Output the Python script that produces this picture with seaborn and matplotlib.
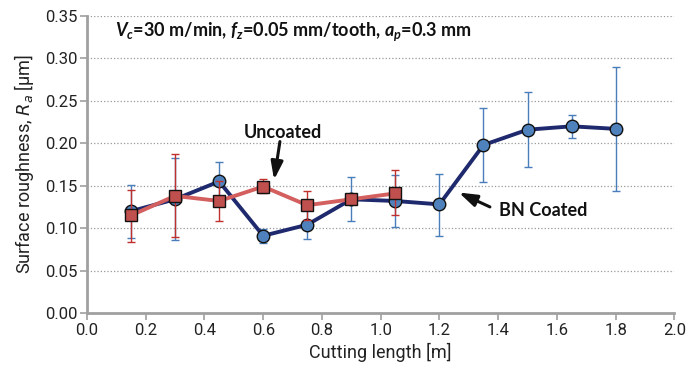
import matplotlib
matplotlib.use("Agg")
import matplotlib.pyplot as plt
import seaborn as sns
import pandas as pd
import numpy as np

sns.set_theme(style="white")
plt.rcParams['font.family'] = ['Roboto', 'DejaVu Sans']
plt.rcParams['mathtext.fontset'] = 'custom'
plt.rcParams['mathtext.it'] = 'Lato:bold:italic'
plt.rcParams['mathtext.rm'] = 'Lato:bold'

# BN coated
bn_x = [0.15, 0.30, 0.45, 0.60, 0.75, 0.90, 1.05, 1.20, 1.35, 1.50, 1.65, 1.80]
bn_y = [0.120, 0.134, 0.155, 0.091, 0.104, 0.134, 0.132, 0.128, 0.198, 0.216, 0.220, 0.217]
bn_lo = [0.088, 0.086, 0.133, 0.083, 0.087, 0.108, 0.101, 0.091, 0.154, 0.172, 0.206, 0.144]
bn_hi = [0.151, 0.183, 0.178, 0.099, 0.122, 0.160, 0.163, 0.164, 0.242, 0.260, 0.233, 0.290]

# Uncoated
un_x = [0.15, 0.30, 0.45, 0.60, 0.75, 0.90, 1.05]
un_y = [0.115, 0.138, 0.132, 0.149, 0.127, 0.134, 0.141]
un_lo = [0.084, 0.089, 0.108, 0.141, 0.110, 0.128, 0.116]
un_hi = [0.145, 0.187, 0.155, 0.158, 0.144, 0.140, 0.168]

x_ticks = [0.0, 0.2, 0.4, 0.6, 0.8, 1.0, 1.2, 1.4, 1.6, 1.8, 2.0]
y_ticks = [0.00, 0.05, 0.10, 0.15, 0.20, 0.25, 0.30, 0.35]

fig = plt.figure(figsize=(6.87, 3.72), dpi=100)
ax = fig.add_axes([0.1266, 0.1586, 0.855, 0.7984])

blue_line = '#1f2a6e'
blue_pt = '#4f81bd'
blue_err = '#4a7ebb'
red_line = '#d35f5f'
red_pt = '#c0504d'
red_err = '#c0302d'

df_bn = pd.DataFrame({'x': bn_x, 'y': bn_y})
df_un = pd.DataFrame({'x': un_x, 'y': un_y})

ax.errorbar(bn_x, bn_y, yerr=[np.array(bn_y) - np.array(bn_lo), np.array(bn_hi) - np.array(bn_y)],
            fmt='none', ecolor=blue_err, elinewidth=1.0, capsize=3, capthick=1.0, zorder=2)
sns.lineplot(data=df_bn, x='x', y='y', ax=ax, color=blue_line, linewidth=2.8, zorder=3,
             marker='o', markersize=9, markerfacecolor=blue_pt, markeredgecolor='#111111',
             markeredgewidth=1.0)

ax.errorbar(un_x, un_y, yerr=[np.array(un_y) - np.array(un_lo), np.array(un_hi) - np.array(un_y)],
            fmt='none', ecolor=red_err, elinewidth=1.0, capsize=3, capthick=1.0, zorder=4)
sns.lineplot(data=df_un, x='x', y='y', ax=ax, color=red_line, linewidth=2.8, zorder=5,
             marker='s', markersize=9, markerfacecolor=red_pt, markeredgecolor='#111111',
             markeredgewidth=1.0)

ax.set_xlim(0, 2.0)
ax.set_ylim(0, 0.35)
ax.set_xticks(x_ticks)
ax.set_yticks(y_ticks)
ax.set_xticklabels([f"{v:.1f}" for v in x_ticks], fontsize=12, color='#222222')
ax.set_yticklabels([f"{v:.2f}" for v in y_ticks], fontsize=12, color='#222222')
ax.yaxis.grid(True, linestyle=':', color='#999999', linewidth=0.9)
ax.xaxis.grid(False)
for s in ['top', 'right']:
    ax.spines[s].set_visible(False)
for s in ['left', 'bottom']:
    ax.spines[s].set_color('#a0a0a0')
    ax.spines[s].set_linewidth(2)
ax.tick_params(axis='both', which='major', direction='out', length=5, width=1.2,
               color='#a0a0a0', bottom=True, left=True, pad=2)

ax.set_xlabel('Cutting length [m]', fontsize=13, color='#222222', labelpad=4)
ax.set_ylabel(r'Surface roughness, $R_a$ [µm]', fontsize=13, color='#222222', labelpad=6)
ax.yaxis.label.set_math_fontfamily('dejavusans')

ax.text(0.095, 0.332, r'$V_c$=30 m/min, $f_z$=0.05 mm/tooth, $a_p$=0.3 mm',
        fontsize=13, fontweight='bold', family='Lato', color='#111111', va='center')

arrow_kw = dict(arrowstyle='-|>,head_length=0.9,head_width=0.3', color='#111111', lw=2.2,
                shrinkA=0, shrinkB=0)
ax.text(0.667, 0.213, 'Uncoated', fontsize=13, fontweight='bold', family='Lato',
        ha='center', va='center', color='#111111')
ax.annotate('', xy=(0.637, 0.157), xytext=(0.657, 0.202), arrowprops=arrow_kw)
ax.text(1.552, 0.1206, 'BN Coated', fontsize=13, fontweight='bold', family='Lato',
        ha='center', va='center', color='#111111')
ax.annotate('', xy=(1.266, 0.142), xytext=(1.372, 0.125), arrowprops=arrow_kw)

fig.savefig('out.png', dpi=100)
